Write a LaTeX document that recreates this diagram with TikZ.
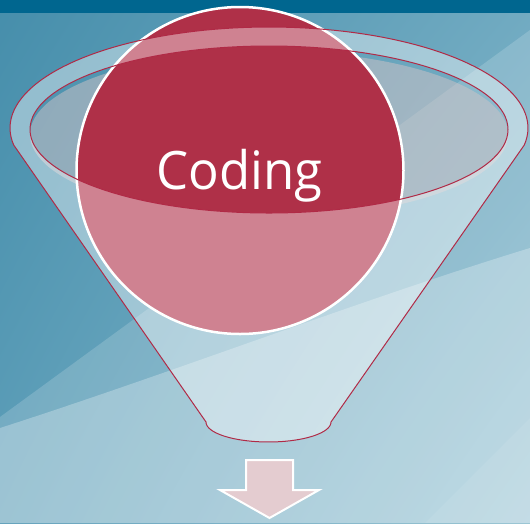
\documentclass[tikz,border=0pt]{standalone}
\usepackage{fontspec}
\setmainfont{Open Sans}
\usetikzlibrary{shadings}
\definecolor{bgUL}{RGB}{70,142,171}
\definecolor{bgUR}{RGB}{112,170,193}
\definecolor{bgLL}{RGB}{94,159,185}
\definecolor{bgLR}{RGB}{150,195,211}
\definecolor{topbar}{RGB}{0,102,143}
\definecolor{cred}{RGB}{175,48,72}
\definecolor{funred}{RGB}{176,42,70}
\definecolor{grayin}{RGB}{210,195,198}
\definecolor{arrowfill}{RGB}{228,204,208}
\begin{document}
\begin{tikzpicture}[x=1pt,y=-1pt,
  redline/.style={draw=funred, line width=1pt, line join=round},
  streak/.style={fill=white, opacity=#1},
  ballstyle/.style={circle, minimum size=327pt, inner sep=0pt, fill=cred, draw=white, line width=2.5pt},
  arrowstyle/.style={fill=arrowfill, draw=white, line width=2pt, line join=miter},
]
\useasboundingbox (0,0) rectangle (530,523);
% background
\shade[upper left=bgUL, upper right=bgUR, lower left=bgLL, lower right=bgLR] (0,0) rectangle (530,523);
\fill[streak=0.17] (0,417) -- (530,30) -- (530,523) -- (0,523) -- cycle;
\fill[streak=0.27] (0,428) .. controls (180,370) and (360,300) .. (530,248) -- (530,523) -- (0,523) -- cycle;
\fill[streak=0.08] (425,523) -- (530,418) -- (530,523) -- cycle;
\fill[topbar] (0,0) rectangle (530,12.5);
% inner gray of the funnel mouth
\fill[grayin, opacity=0.5] (269,134.5) ellipse [x radius=239pt, y radius=83.5pt];
% circle
\node[ballstyle] (ball) at (240,170.5) {};
% funnel overlay
\begin{scope}[even odd rule]
\clip (-5,-5) rectangle (535,528) (269,129.5) ellipse [x radius=239pt, y radius=83.5pt];
\fill[white, opacity=0.4] (13.7,145) -- plot[domain=170.3:369.7, samples=90] ({269+259*cos(\x)},{128+101*sin(\x)}) -- (331,422) -- plot[domain=0:180, samples=40] ({268.5+62.5*cos(\x)},{422+20*sin(\x)}) -- cycle;
\end{scope}
% funnel outlines
\draw[redline] (13.7,145) -- plot[domain=170.3:369.7, samples=90] ({269+259*cos(\x)},{128+101*sin(\x)}) -- (331,422) -- plot[domain=0:180, samples=40] ({268.5+62.5*cos(\x)},{422+20*sin(\x)}) -- cycle;
\draw[redline] (269,129.5) ellipse [x radius=239pt, y radius=83.5pt];
% label
\node[text=white, font=\fontsize{53}{60}\selectfont, anchor=base, inner sep=0pt] (lbl) at (239.5,189) {\scalebox{0.96}[1]{Coding}};
% arrow
\draw[arrowstyle] (246,460) -- (293,460) -- (293,490) -- (319,490) -- (269.5,518) -- (220,490) -- (246,490) -- cycle;
\end{tikzpicture}
\end{document}
